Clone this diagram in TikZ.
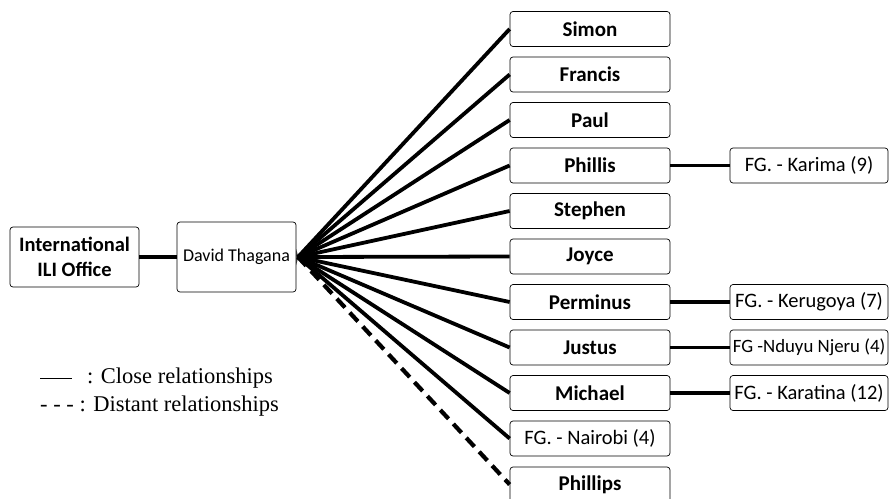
\documentclass[tikz,border=0pt]{standalone}
\usepackage{fontspec}
\setmainfont{Liberation Serif}
\newfontfamily\boxfont{Carlito}
\begin{document}
\begin{tikzpicture}[x=1pt,y=-1pt,
  box/.style={draw, line width=0.7pt, rounded corners=3pt, inner sep=0pt,
    align=center, font=\boxfont\fontsize{20.5}{22}\selectfont},
  namebox/.style={box, minimum width=160pt, minimum height=35pt,
    font=\boxfont\bfseries\fontsize{21}{22}\selectfont},
  fgbox/.style={box, minimum width=158pt, minimum height=35pt},
  tie/.style={line width=3.8pt},
  loose/.style={line width=4.2pt, dash pattern=on 12pt off 7pt},
  legend/.style={font=\fontsize{22.5}{26}\selectfont, inner sep=0pt, anchor=west}]
\useasboundingbox (0,0) rectangle (890,498);
\clip (0,0) rectangle (890,498);

% left side
\node[box, minimum width=129pt, minimum height=60pt,
      font=\boxfont\bfseries\fontsize{20.5}{24.5}\selectfont] (ili) at (74.5,257)
      {International\\ILI Office};
\node[box, minimum width=119pt, minimum height=70pt,
      font=\boxfont\fontsize{18}{20}\selectfont] (david) at (236.5,257) {David Thagana};
\coordinate (hub) at (298,257);

% contacts
\node[namebox] (simon)    at (590,29)    {Simon};
\node[namebox] (francis)  at (590,74.5)  {Francis};
\node[namebox] (paul)     at (590,120)   {Paul};
\node[namebox] (phillis)  at (590,165.5) {Phillis};
\node[namebox] (stephen)  at (590,211)   {Stephen};
\node[namebox] (joyce)    at (590,256.5) {Joyce};
\node[namebox] (perminus) at (590,302)   {Perminus};
\node[namebox] (justus)   at (590,347.5) {Justus};
\node[namebox] (michael)  at (590,393)   {Michael};
\node[namebox, font=\boxfont\fontsize{20.5}{22}\selectfont] (nairobi) at (590,438.5) {FG. - Nairobi (4)};
\node[namebox] (phillips) at (590,484.5) {Phillips};

% farmer groups
\node[fgbox] (karima)   at (809,165.5) {FG. - Karima (9)};
\node[fgbox] (kerugoya) at (809,302)   {FG. - Kerugoya (7)};
\node[fgbox, font=\boxfont\fontsize{18.8}{22}\selectfont] (nduyu) at (809,347.5) {FG -Nduyu Njeru (4)};
\node[fgbox] (karatina) at (809,393)   {FG. - Karatina (12)};

% connectors
\draw[tie] (ili) -- (david);
\fill (david.east |- 0,249) -- (hub) -- (david.east |- 0,265) -- cycle;
\foreach \n in {simon,francis,paul,phillis,stephen,joyce,perminus,justus,michael,nairobi}
  \draw[tie] (hub) -- (\n.west);
\draw[loose] (hub) -- (phillips.west);
\draw[tie] (phillis) -- (karima);
\draw[tie] (perminus) -- (kerugoya);
\draw[tie] (justus) -- (nduyu);
\draw[tie] (michael) -- (karatina);

% legend
\coordinate (la) at (40,378);
\coordinate (lb) at (72,378);
\draw[line width=0.8pt] (la) -- (lb);
\node[legend] (close) at (87,378) {: Close relationships};
\node[legend] (distant) at (40,406) {- - - : Distant relationships};
\end{tikzpicture}
\end{document}
